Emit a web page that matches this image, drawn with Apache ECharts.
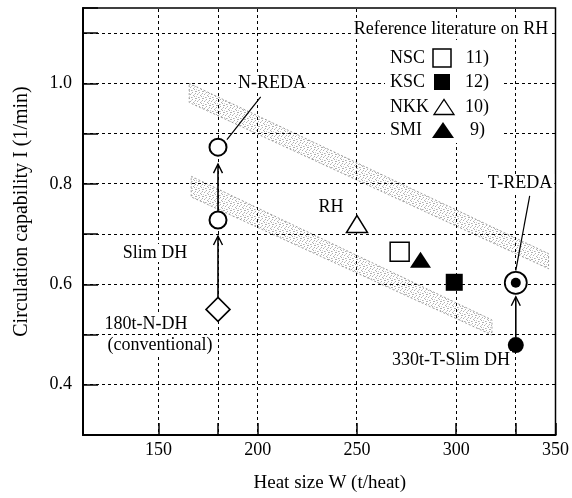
<!DOCTYPE html>
<html><head><meta charset="utf-8">
<script src="https://cdn.jsdelivr.net/npm/echarts@6/dist/echarts.min.js"></script>
<style>html,body{margin:0;padding:0;background:#fff}#c{width:572px;height:498px}</style>
</head><body><div id="c"></div>
<script>
// ---- data ----
const W_TICKS = [150, 180, 200, 250, 300, 330, 350];
const W_LABELS = [150, 200, 250, 300, 350];
const W_GRID = [150, 180, 200, 250, 300, 330];
const Y_LABELS = [0.4, 0.6, 0.8, 1.0];
const Y_GRID = [0.4, 0.5, 0.6, 0.7, 0.8, 0.9, 1.0, 1.1];

const nDH = [[180, 0.55]];        // 180t-N-DH (conventional)
const slimDH = [[180, 0.728]];    // Slim DH
const nREDA = [[180, 0.873]];     // N-REDA
const rhNKK = [[250, 0.72]];      // NKK 10)
const rhNSC = [[271.5, 0.665]];   // NSC 11)
const rhSMI = [[282, 0.649]];     // SMI 9)
const rhKSC = [[299, 0.604]];     // KSC 12)
const tREDA = [[330, 0.603]];     // T-REDA
const tSlimDH = [[330, 0.479]];   // 330t-T-Slim DH

const arrowFrom = [[180, 0.55], [180, 0.728], [330, 0.479]];
const arrowTo = [[180, 0.728], [180, 0.873], [330, 0.603]];
const leaderFrom = [[184.5, 0.888], [330, 0.627]];
const leaderTo = [[201.5, 0.973], [337, 0.776]];

const bandW = [[165.5, 346.5], [166.5, 318]];
const bandTop = [[1.0, 0.661], [0.815, 0.529]];
const bandBottom = [[0.962, 0.631], [0.774, 0.499]];

// ---- styling ----
const FONT = "'Liberation Serif', 'DejaVu Serif', serif";
const X_MIN = 112, X_MAX = 350, Y_MIN = 0.3, Y_MAX = 1.15;
const arrowGap = [[12, 16], [9, 17], [8, 14]];
const DASH = 3, GAP = 3;

const pc = document.createElement('canvas');
pc.width = 7; pc.height = 7;
const pctx = pc.getContext('2d');
pctx.fillStyle = '#fff'; pctx.fillRect(0, 0, 7, 7);
pctx.fillStyle = '#b0b0b0';
[[0,0],[3,1],[6,2],[1,3],[4,4],[2,6],[5,5],[6,0]].forEach(p => pctx.fillRect(p[0], p[1], 1, 1));
pctx.fillStyle = '#d0d0d0';
[[2,2],[5,3],[0,5],[3,6]].forEach(p => pctx.fillRect(p[0], p[1], 1, 1));

const chart = echarts.init(document.getElementById('c'), null, {renderer: 'canvas'});

function txt(text, x, y, opts) {
  return {
    type: 'text', z: 20, x: x, y: y,
    style: Object.assign({
      text: text, font: "18px " + FONT, fill: '#000',
      align: 'center', verticalAlign: 'middle',
      backgroundColor: '#fff', padding: [0, 2]
    }, (opts && opts.style) || {})
  };
}

function open(bw) { return {color: '#fff', borderColor: '#000', borderWidth: bw, opacity: 1}; }

const option = {
  animation: false,
  backgroundColor: '#fff',
  grid: {left: 83, right: 14, top: 8, bottom: 61, show: true, borderColor: '#000', borderWidth: 1.5},
  xAxis: {
    type: 'value', min: X_MIN, max: X_MAX,
    axisLine: {lineStyle: {color: '#000', width: 2}},
    axisTick: {inside: true, length: 12, customValues: W_TICKS, lineStyle: {color: '#000', width: 1.5}},
    axisLabel: {customValues: W_LABELS, fontSize: 18, fontFamily: FONT, color: '#000', margin: 6},
    splitLine: {show: false},
    name: 'Heat size W (t/heat)', nameLocation: 'middle', nameGap: 39,
    nameTextStyle: {fontSize: 19, fontFamily: FONT, color: '#000', padding: [0, 0, 0, 21]}
  },
  yAxis: {
    type: 'value', min: Y_MIN, max: Y_MAX, interval: 0.1,
    axisLine: {lineStyle: {color: '#000', width: 2}},
    axisTick: {inside: true, length: 15, lineStyle: {color: '#000', width: 1.5}},
    axisLabel: {
      fontSize: 18, fontFamily: FONT, color: '#000', margin: 11,
      formatter: v => Y_LABELS.some(l => Math.abs(l - v) < 1e-6) ? v.toFixed(1) : ''
    },
    splitLine: {show: false},
    name: 'Circulation capability I (1/min)', nameLocation: 'middle', nameGap: 51,
    nameTextStyle: {fontSize: 20, fontFamily: FONT, color: '#000', padding: [0, 0, 0, 20]}
  },
  series: [
    { // shaded bands
      type: 'custom', z: 2,
      data: bandW.map((w, i) => [w[0], w[1], bandTop[i][0], bandTop[i][1], bandBottom[i][0], bandBottom[i][1]]),
      encode: {x: [0, 1], y: [2, 3, 4, 5]},
      renderItem: (p, api) => {
        const pts = [
          api.coord([api.value(0), api.value(2)]),
          api.coord([api.value(1), api.value(3)]),
          api.coord([api.value(1), api.value(5)]),
          api.coord([api.value(0), api.value(4)])
        ];
        return {type: 'polygon', shape: {points: pts},
          style: {fill: {image: pc, repeat: 'repeat'}, stroke: '#888', lineWidth: 0.8, lineDash: [2, 2]}};
      }
    },
    { // horizontal dashed grid lines (dash segments)
      type: 'custom', z: 3, silent: true,
      data: Y_GRID.map(v => [X_MIN, v]),
      renderItem: (p, api) => {
        const a = api.coord([X_MIN, api.value(1)]);
        const b = api.coord([X_MAX, api.value(1)]);
        const y0 = Math.floor(a[1]);
        const kids = [];
        for (let x = Math.round(a[0]) + 1; x < b[0]; x += DASH + GAP) {
          kids.push({type: 'rect', shape: {x: x, y: y0, width: Math.min(DASH, b[0] - x), height: 1}, style: {fill: '#000'}});
        }
        return {type: 'group', children: kids};
      }
    },
    { // vertical dashed grid lines (dash segments)
      type: 'custom', z: 3, silent: true,
      data: W_GRID.map(v => [v, Y_MIN]),
      renderItem: (p, api) => {
        const a = api.coord([api.value(0), Y_MIN]);
        const b = api.coord([api.value(0), Y_MAX]);
        const x0 = Math.floor(a[0]);
        const kids = [];
        for (let y = Math.round(b[1]) + 1; y < a[1]; y += DASH + GAP) {
          kids.push({type: 'rect', shape: {x: x0, y: y, width: 1, height: Math.min(DASH, a[1] - y)}, style: {fill: '#000'}});
        }
        return {type: 'group', children: kids};
      }
    },
    { // arrows
      type: 'custom', z: 4,
      data: arrowFrom.map((f, i) => [f[0], f[1], arrowTo[i][0], arrowTo[i][1]]),
      encode: {x: [0, 2], y: [1, 3]},
      renderItem: (p, api) => {
        const s = api.coord([api.value(0), api.value(1)]);
        const e = api.coord([api.value(2), api.value(3)]);
        const dx = e[0] - s[0], dy = e[1] - s[1];
        const L = Math.sqrt(dx * dx + dy * dy), ux = dx / L, uy = dy / L;
        const g = arrowGap[p.dataIndex];
        const p0 = [s[0] + ux * g[0], s[1] + uy * g[0]];
        const p1 = [e[0] - ux * g[1], e[1] - uy * g[1]];
        const bx = p1[0] - ux * 9, by = p1[1] - uy * 9;
        const px = -uy * 4.5, py = ux * 4.5;
        return {type: 'group', children: [
          {type: 'line', shape: {x1: p0[0], y1: p0[1], x2: p1[0], y2: p1[1]}, style: {stroke: '#000', lineWidth: 1.6}},
          {type: 'polyline', shape: {points: [[bx + px, by + py], p1, [bx - px, by - py]]}, style: {stroke: '#000', lineWidth: 1.4, fill: null}}
        ]};
      }
    },
    { // leader lines
      type: 'custom', z: 4,
      data: leaderFrom.map((f, i) => [f[0], f[1], leaderTo[i][0], leaderTo[i][1]]),
      encode: {x: [0, 2], y: [1, 3]},
      renderItem: (p, api) => {
        const s = api.coord([api.value(0), api.value(1)]);
        const e = api.coord([api.value(2), api.value(3)]);
        return {type: 'line', shape: {x1: s[0], y1: s[1], x2: e[0], y2: e[1]}, style: {stroke: '#000', lineWidth: 1.2}};
      }
    },
    {type: 'scatter', z: 5, data: nDH, symbol: 'diamond', symbolSize: [24, 24], itemStyle: open(1.6)},
    {type: 'scatter', z: 5, data: slimDH.concat(nREDA), symbol: 'circle', symbolSize: 17, itemStyle: open(2)},
    {type: 'scatter', z: 5, data: rhNKK, symbol: 'triangle', symbolSize: [21, 17], itemStyle: open(1.5)},
    {type: 'scatter', z: 5, data: rhNSC, symbol: 'rect', symbolSize: 19, itemStyle: open(1.5)},
    {type: 'scatter', z: 5, data: rhSMI, symbol: 'triangle', symbolSize: [21, 16], itemStyle: {color: '#000', opacity: 1}},
    {type: 'scatter', z: 5, data: rhKSC, symbol: 'rect', symbolSize: 17, itemStyle: {color: '#000', opacity: 1}},
    {type: 'scatter', z: 5, data: tREDA, symbol: 'circle', symbolSize: 22, itemStyle: open(1.8)},
    {type: 'scatter', z: 6, data: tREDA, symbol: 'circle', symbolSize: 10, itemStyle: {color: '#000', opacity: 1}},
    {type: 'scatter', z: 5, data: tSlimDH, symbol: 'circle', symbolSize: 16, itemStyle: {color: '#000', opacity: 1}}
  ],
  graphic: [
    {type: 'rect', z: 4.5, shape: {x: 385, y: 40, width: 118, height: 103}, style: {fill: '#fff'}},
    {type: 'rect', z: 4.5, shape: {x: 357.5, y: 37, width: 3, height: 106}, style: {fill: '#fff'}},
    txt('Reference literature on RH', 451, 29),
    txt('NSC', 390, 58, {style: {align: 'left', padding: 0}}),
    txt('KSC', 390, 82, {style: {align: 'left', padding: 0}}),
    txt('NKK', 390, 107, {style: {align: 'left', padding: 0}}),
    txt('SMI', 390, 130, {style: {align: 'left', padding: 0}}),
    txt('11)', 489, 58, {style: {align: 'right', padding: 0}}),
    txt('12)', 489, 82, {style: {align: 'right', padding: 0}}),
    txt('10)', 489, 107, {style: {align: 'right', padding: 0}}),
    txt('9)', 485, 130, {style: {align: 'right', padding: 0}}),
    {type: 'rect', z: 20, shape: {x: 433, y: 49, width: 18, height: 18}, style: {fill: '#fff', stroke: '#000', lineWidth: 1.5}},
    {type: 'rect', z: 20, shape: {x: 434, y: 74, width: 16, height: 16}, style: {fill: '#000'}},
    {type: 'polygon', z: 20, shape: {points: [[434, 114.5], [454, 114.5], [444, 99.5]]}, style: {fill: '#fff', stroke: '#000', lineWidth: 1.3}},
    {type: 'polygon', z: 20, shape: {points: [[432, 138], [454, 138], [443, 122]]}, style: {fill: '#000'}},
    txt('N-REDA', 272, 83),
    txt('Slim DH', 155, 253),
    txt('180t-N-DH', 146, 324),
    txt('(conventional)', 160, 345),
    txt('RH', 331, 207),
    txt('T-REDA', 520, 183),
    txt('330t-T-Slim DH', 451, 360)
  ]
};
chart.setOption(option);
</script>
</body></html>
